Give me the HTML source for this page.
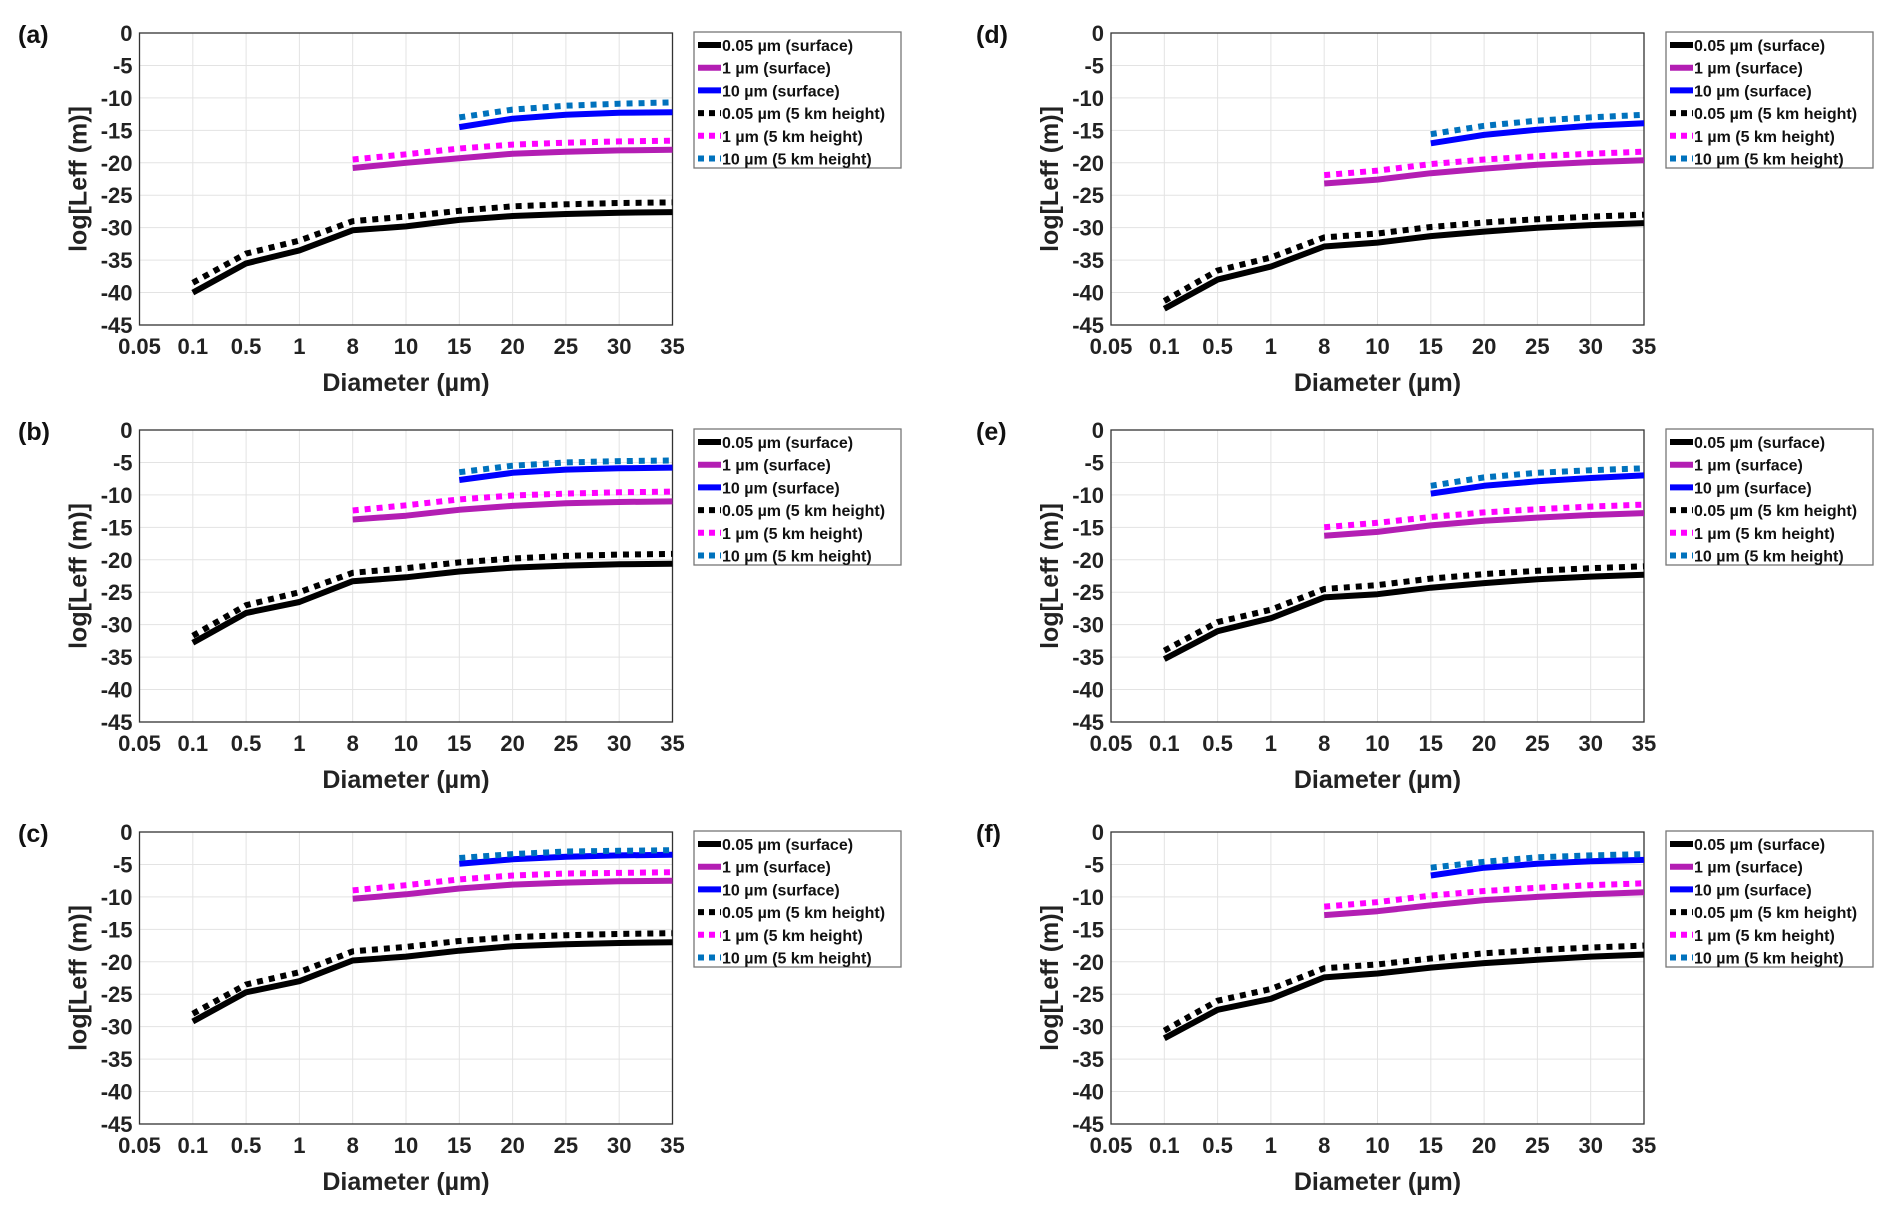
<!DOCTYPE html>
<html><head><meta charset="utf-8">
<style>
html,body{margin:0;padding:0;background:#fff;}
svg{display:block;font-family:"Liberation Sans Narrow","Liberation Sans",sans-serif;}
</style></head>
<body>
<svg id="fig" width="1892" height="1213" viewBox="0 0 1892 1213" xmlns="http://www.w3.org/2000/svg"></svg>
<script>
const categories = ["0.05","0.1","0.5","1","8","10","15","20","25","30","35"];
const yTicks = [0,-5,-10,-15,-20,-25,-30,-35,-40,-45];
const panelLabels = ["(a)","(b)","(c)","(d)","(e)","(f)"];
const seriesNames = ["0.05 µm (surface)","1 µm (surface)","10 µm (surface)","0.05 µm (5 km height)","1 µm (5 km height)","10 µm (5 km height)"];
// start index into categories for each series
const seriesStart = [1,4,6,1,4,6];
// values per panel: [blackSurf, magSurf, blueSurf, blackDot, magDot, blueDot]
const dataA = [
 [-40,-35.5,-33.5,-30.4,-29.8,-28.8,-28.2,-27.9,-27.7,-27.6],
 [-20.8,-20,-19.3,-18.6,-18.3,-18.1,-18.0],
 [-14.5,-13.2,-12.6,-12.3,-12.2],
 [-38.5,-34,-32,-29,-28.3,-27.4,-26.7,-26.4,-26.2,-26.1],
 [-19.5,-18.7,-17.8,-17.2,-16.9,-16.7,-16.6],
 [-13,-11.8,-11.2,-10.9,-10.7]];
const dataB = [
 [-32.8,-28.2,-26.5,-23.3,-22.7,-21.8,-21.2,-20.9,-20.7,-20.6],
 [-13.8,-13.2,-12.3,-11.7,-11.3,-11.1,-11.0],
 [-7.7,-6.6,-6.1,-5.9,-5.8],
 [-31.7,-27,-25,-22,-21.3,-20.4,-19.8,-19.4,-19.2,-19.1],
 [-12.4,-11.6,-10.7,-10.1,-9.8,-9.6,-9.5],
 [-6.5,-5.5,-5.0,-4.8,-4.7]];
const dataC = [
 [-29.2,-24.7,-23,-19.8,-19.2,-18.3,-17.6,-17.3,-17.1,-17.0],
 [-10.3,-9.6,-8.7,-8.1,-7.8,-7.6,-7.5],
 [-4.9,-4.2,-3.8,-3.6,-3.5],
 [-28,-23.5,-21.6,-18.4,-17.7,-16.8,-16.2,-15.9,-15.7,-15.6],
 [-9,-8.2,-7.3,-6.7,-6.4,-6.3,-6.2],
 [-4.0,-3.4,-3.0,-2.9,-2.8]];
const dataD = [
 [-42.5,-38,-36,-32.9,-32.3,-31.3,-30.6,-30,-29.6,-29.3],
 [-23.2,-22.6,-21.6,-20.9,-20.3,-19.9,-19.6],
 [-17,-15.7,-14.9,-14.3,-13.9],
 [-41.3,-36.6,-34.6,-31.5,-30.9,-29.9,-29.2,-28.7,-28.3,-28.0],
 [-21.9,-21.2,-20.2,-19.5,-19,-18.6,-18.3],
 [-15.6,-14.3,-13.5,-13,-12.6]];
const dataE = [
 [-35.3,-31,-29,-25.8,-25.3,-24.3,-23.6,-23,-22.6,-22.3],
 [-16.3,-15.7,-14.7,-14.0,-13.5,-13.1,-12.8],
 [-9.8,-8.6,-7.9,-7.4,-7.0],
 [-34,-29.6,-27.7,-24.5,-23.9,-22.9,-22.2,-21.7,-21.3,-21.0],
 [-15,-14.3,-13.4,-12.7,-12.2,-11.8,-11.5],
 [-8.6,-7.3,-6.6,-6.2,-5.9]];
const dataF = [
 [-31.8,-27.4,-25.7,-22.4,-21.8,-20.9,-20.2,-19.7,-19.2,-18.9],
 [-12.8,-12.2,-11.3,-10.5,-10.0,-9.6,-9.3],
 [-6.7,-5.5,-4.9,-4.5,-4.3],
 [-30.6,-26,-24.2,-21,-20.4,-19.5,-18.7,-18.2,-17.8,-17.5],
 [-11.5,-10.8,-9.8,-9.1,-8.6,-8.2,-7.9],
 [-5.5,-4.6,-3.9,-3.6,-3.4]];
const panelData = [dataA,dataB,dataC,dataD,dataE,dataF];

const colors = ["#000000","#b31eb3","#0000ff","#000000","#ff00ff","#0072bd"];
const NS = "http://www.w3.org/2000/svg";
const svg = document.getElementById('fig');
function mk(tag, attrs, parent){const e=document.createElementNS(NS,tag);for(const k in attrs)e.setAttribute(k,attrs[k]);(parent||svg).appendChild(e);return e;}

const W=533, H=292;
const lefts=[139.5,1111], tops=[33,430,832];

panelData.forEach((data,p)=>{
  const col=Math.floor(p/3), row=p%3;
  const L=lefts[col], T=tops[row];
  const g=mk('g',{});
  
  
  const xS=i=>L+i*W/(categories.length-1);
  const yS=v=>T+(0-v)/45*H;
  categories.forEach((c,i)=>{
    const l=mk('line',{x1:xS(i),x2:xS(i),y1:T,y2:T+H,stroke:'#e3e3e3','stroke-width':1},g);
    
    
    const t=mk('text',{x:xS(i),y:T+H+29,'font-size':22,'font-weight':'bold','text-anchor':'middle',fill:'#222'},g);
    t.textContent=c;
    
    
  });
  yTicks.forEach(v=>{
    const l=mk('line',{x1:L,x2:L+W,y1:yS(v),y2:yS(v),stroke:'#e3e3e3','stroke-width':1},g);
    
    
    const t=mk('text',{x:L-7,y:yS(v)+8,'font-size':22,'font-weight':'bold','text-anchor':'end',fill:'#222'},g);
    t.textContent=String(v);
    
    
  });
  const box=mk('rect',{x:L,y:T,width:W,height:H,fill:'none',stroke:'#333','stroke-width':1.3},g);
  
  
  data.forEach((vals,s)=>{
    const pts=vals.map((v,k)=>xS(seriesStart[s]+k).toFixed(1)+','+yS(v).toFixed(1)).join(' ');
    const attrs={points:pts,fill:'none',stroke:colors[s],'stroke-width':6,'stroke-linejoin':'round'};
    if(s>=3){attrs['stroke-dasharray']='6 6';}
    const pl=mk('polyline',attrs,g);
    
    
  });
  const pl=mk('text',{x:col?976:18,y:T+10,'font-size':25,'font-weight':'bold','font-family':'"Liberation Sans",sans-serif',fill:'#111'},g);
  pl.textContent=panelLabels[p];
  
  
  const xl=mk('text',{x:L+W/2,y:T+H+66,'font-size':25,'font-weight':'bold','text-anchor':'middle',fill:'#222'},g);
  xl.textContent='Diameter (µm)';
  
  
  const yl=mk('text',{x:0,y:0,'font-size':25,'font-weight':'bold','text-anchor':'middle','font-family':'"Liberation Sans",sans-serif',fill:'#222',transform:`translate(${L-53},${T+H/2}) rotate(-90)`},g);
  yl.textContent='log[Leff (m)]';
  
  
  const LX=col?1666:694, LY=T-1;
  const lg=mk('g',{},g);
  
  
  mk('rect',{x:LX,y:LY,width:207,height:136,fill:'#fff',stroke:'#777','stroke-width':1.3},lg);
  seriesNames.forEach((n,s)=>{
    const yy=LY+13+s*22.7;
    const a={x1:LX+4,x2:LX+27,y1:yy,y2:yy,stroke:colors[s],'stroke-width':6};
    if(s>=3)a['stroke-dasharray']='6 5';
    mk('line',a,lg);
    const t=mk('text',{x:LX+28,y:yy+6,'font-size':16,'font-weight':'bold','font-family':'"Liberation Sans",sans-serif',fill:'#111'},lg);
    t.textContent=n;
    
    
  });
});
</script>
</body></html>
